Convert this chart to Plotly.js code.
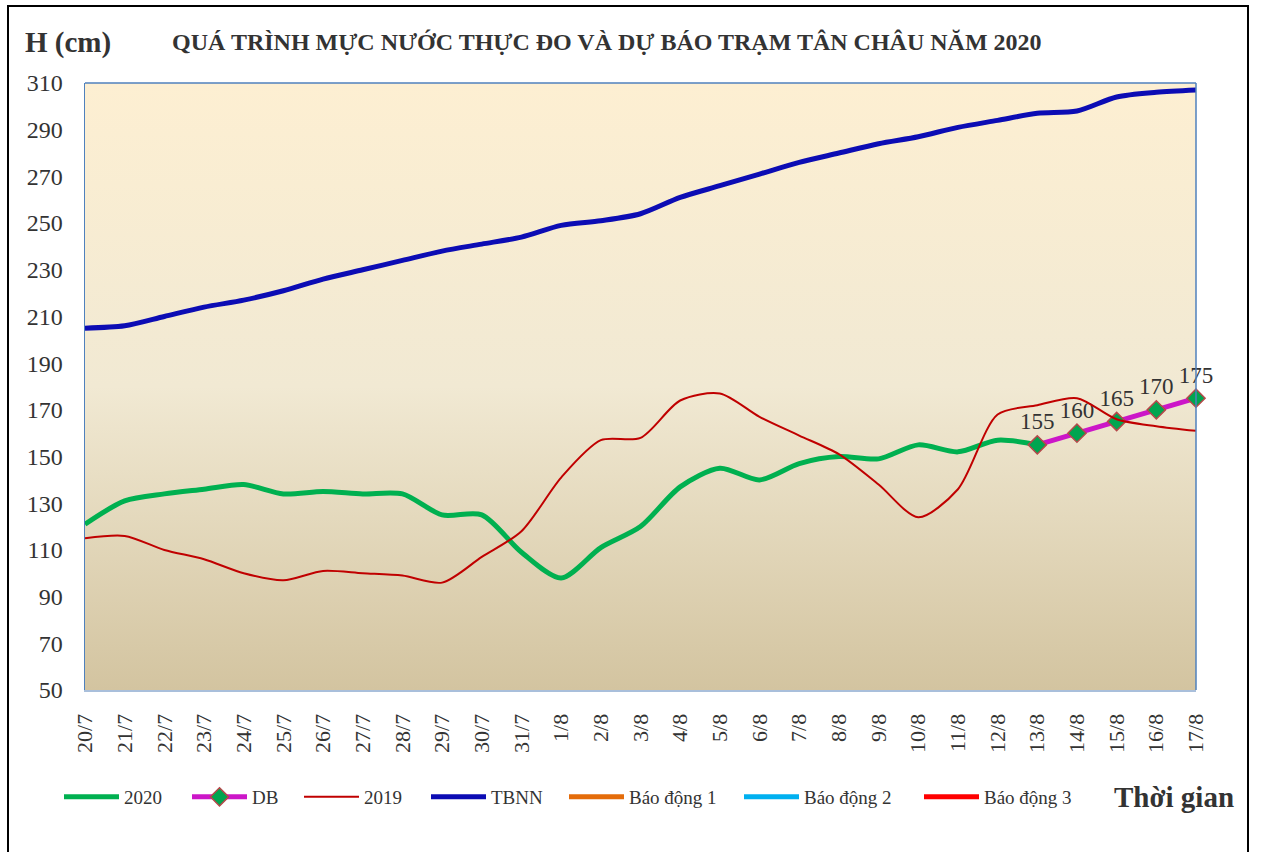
<!DOCTYPE html>
<html>
<head>
<meta charset="utf-8">
<script src="https://cdn.plot.ly/plotly-3.0.1.min.js"></script>
<style>
html,body{margin:0;padding:0;background:#fff;}
#wrap{position:relative;width:1261px;height:852px;overflow:hidden;}
#chart{width:1261px;height:852px;}
#frame{position:absolute;left:7px;top:5px;width:1242px;height:870px;border:2px solid #000;pointer-events:none;box-sizing:border-box;}
</style>
</head>
<body>
<div id="wrap"><div id="chart"></div><div id="frame"></div></div>
<script>
const categories = ["20/7","21/7","22/7","23/7","24/7","25/7","26/7","27/7","28/7","29/7","30/7","31/7","1/8","2/8","3/8","4/8","5/8","6/8","7/8","8/8","9/8","10/8","11/8","12/8","13/8","14/8","15/8","16/8","17/8"];
const h2020 = [121,131,134,136,138,134,135,134,134,125,125,109,98,111,120,137,145,140,147,150,149,155,152,157,155,null,null,null,null];
const dbCats = ["13/8","14/8","15/8","16/8","17/8"];
const dbValues = [155,160,165,170,175];
const h2019 = [115,116,110,106,100,97,101,100,99,96,107,118,141,157,158,174,177,167,159,151,138,124,136,168,172,175,166,163,161];
const tbnn = [205,206,210,214,217,221,226,230,234,238,241,244,249,251,254,261,266,271,276,280,284,287,291,294,297,298,304,306,307];
const alarm1 = 350, alarm2 = 400, alarm3 = 450;
const yTicks = [50,70,90,110,130,150,170,190,210,230,250,270,290,310];

const serif = "'Liberation Serif','Times New Roman',serif";
const constArr = v => categories.map(() => v);

const traces = [
  {name:"2020", legend:"legend", x:categories, y:h2020, type:"scatter", mode:"lines",
   line:{color:"#00B050", width:5, shape:"spline", smoothing:0.8}},
  {name:"DB", legend:"legend2", x:dbCats, y:dbValues, type:"scatter", mode:"lines+markers+text",
   line:{color:"#CC16C8", width:5},
   marker:{symbol:"diamond", size:14, color:"#00A550", line:{color:"#B5484A", width:1.5}},
   text:dbValues.map(String), textposition:"top center", cliponaxis:false,
   textfont:{family:serif, size:23, color:"#333333"}},
  {name:"2019", legend:"legend3", x:categories, y:h2019, type:"scatter", mode:"lines",
   line:{color:"#C00000", width:2, shape:"spline", smoothing:0.8}},
  {name:"TBNN", legend:"legend4", x:categories, y:tbnn, type:"scatter", mode:"lines",
   line:{color:"#0C0CB4", width:5, shape:"spline", smoothing:0.8}},
  {name:"Báo động 1", legend:"legend5", x:categories, y:constArr(alarm1), type:"scatter", mode:"lines",
   line:{color:"#E46C0A", width:5}},
  {name:"Báo động 2", legend:"legend6", x:categories, y:constArr(alarm2), type:"scatter", mode:"lines",
   line:{color:"#00B0F0", width:5}},
  {name:"Báo động 3", legend:"legend7", x:categories, y:constArr(alarm3), type:"scatter", mode:"lines",
   line:{color:"#FF0000", width:5}}
];

const grad = 'data:image/svg+xml;utf8,' + encodeURIComponent(
 '<svg xmlns="http://www.w3.org/2000/svg" width="100" height="100" preserveAspectRatio="none">' +
 '<defs><linearGradient id="g" x1="0" y1="0" x2="0" y2="1">' +
 '<stop offset="0" stop-color="#FDEFD2"/><stop offset="0.5" stop-color="#F1E9D3"/><stop offset="1" stop-color="#D3C4A0"/>' +
 '</linearGradient></defs><rect width="100" height="100" fill="url(#g)"/></svg>');

const legendStarts = [65, 193, 305, 432, 570, 745, 925];
function mkLegend(px){
  return {orientation:"h", x:(px-6-85)/1111, xanchor:"left", y:(690-797)/607, yanchor:"middle",
          font:{family:serif, size:19, color:"#333333"}, itemwidth:55,
          bgcolor:"rgba(0,0,0,0)"};
}

const layout = {
  width:1261, height:852,
  margin:{l:85, r:65, t:83, b:162},
  paper_bgcolor:"rgba(0,0,0,0)",
  plot_bgcolor:"rgba(0,0,0,0)",
  showlegend:true,
  font:{family:serif, color:"#333333"},
  images:[{source:grad, xref:"paper", yref:"paper", x:0, y:1, sizex:1, sizey:1,
           sizing:"stretch", layer:"below", xanchor:"left", yanchor:"top"}],
  xaxis:{type:"category", categoryorder:"array", categoryarray:categories,
         range:[0, categories.length-1], showgrid:false, zeroline:false,
         showline:true, linecolor:"#A9BFDB", linewidth:2, mirror:false,
         ticks:"", tickangle:-90, ticklabelstandoff:13,
         tickfont:{family:serif, size:22, color:"#333333"},
         fixedrange:true},
  yaxis:{range:[50,310], tickvals:yTicks, ticktext:yTicks.map(String),
         showgrid:false, zeroline:false, showline:true, linecolor:"#4F81BD", linewidth:1.5,
         ticks:"", ticklabelstandoff:16, tickfont:{family:serif, size:24, color:"#333333"},
         fixedrange:true},
  shapes:[
    {type:"line", xref:"paper", yref:"paper", x0:0, x1:1, y0:1, y1:1, line:{color:"#4F81BD", width:1.5}},
    {type:"line", xref:"paper", yref:"paper", x0:1, x1:1, y0:0, y1:1, line:{color:"#4F81BD", width:1.5}}
  ],
  legend:mkLegend(legendStarts[0]),
  legend2:mkLegend(legendStarts[1]),
  legend3:mkLegend(legendStarts[2]),
  legend4:mkLegend(legendStarts[3]),
  legend5:mkLegend(legendStarts[4]),
  legend6:mkLegend(legendStarts[5]),
  legend7:mkLegend(legendStarts[6]),
  annotations:[
    {text:"<b>QUÁ TRÌNH MỰC NƯỚC THỰC ĐO VÀ DỰ BÁO TRẠM TÂN CHÂU NĂM 2020</b>", xref:"paper", yref:"paper",
     x:(607-85)/1111, y:(690-42)/607, xanchor:"center", yanchor:"middle", showarrow:false,
     font:{family:serif, size:24, color:"#333333"}},
    {text:"<b>H (cm)</b>", xref:"paper", yref:"paper", x:(23-85)/1111, y:(690-42)/607,
     xanchor:"left", yanchor:"middle", showarrow:false, font:{family:serif, size:29, color:"#333333"}},
    {text:"<b>Thời gian</b>", xref:"paper", yref:"paper", x:(1112-85)/1111, y:(690-797)/607,
     xanchor:"left", yanchor:"middle", showarrow:false, font:{family:serif, size:29, color:"#333333"}}
  ]
};

Plotly.newPlot("chart", traces, layout, {displayModeBar:false, staticPlot:true});
</script>
</body>
</html>
